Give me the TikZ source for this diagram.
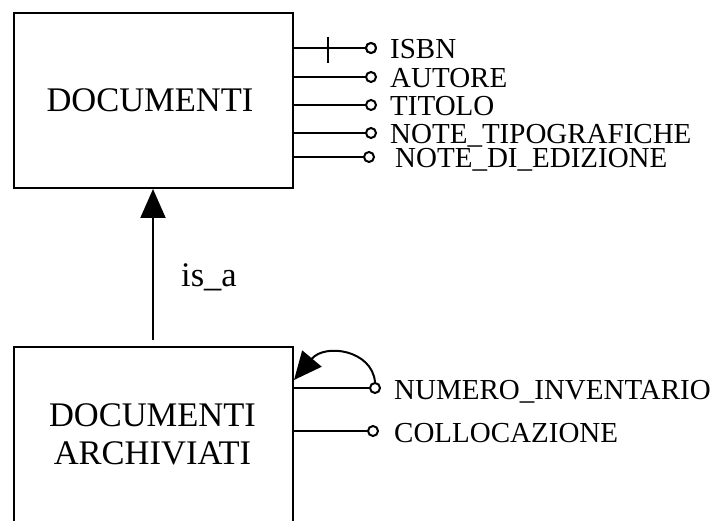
\documentclass[tikz,border=0pt]{standalone}
\usepackage{fontspec}
\setmainfont{Liberation Serif}
\usetikzlibrary{arrows.meta}
\begin{document}
\begin{tikzpicture}[x=1pt,y=-1pt,
  ent/.style={draw,line width=2pt,rectangle,inner sep=0pt},
  conn/.style={line width=2pt},
  attr/.style={circle,draw,line width=2pt,fill=white,minimum size=10pt,inner sep=0pt},
  big/.style={font=\fontsize{34.5}{38}\selectfont,inner sep=0pt,anchor=base},
  lbl/.style={font=\fontsize{29}{30}\selectfont,inner sep=0pt,anchor=base west},
  isa/.style={line width=2pt,-{Triangle[length=29pt,width=25pt]}}]
\useasboundingbox (0,0) rectangle (725,521);
\begin{scope}
\clip (0,0) rectangle (725,521);
% entities
\node[ent,minimum width=279pt,minimum height=175pt] (doc) at (153.5,100.5) {};
\node[ent,minimum width=279pt,minimum height=260pt] (arch) at (153.5,477) {};
\end{scope}
\node[big] (doct) at (150,112) {DOCUMENTI};
\node[big] (archt1) at (152.5,426) {DOCUMENTI};
\node[big] (archt2) at (152.5,464) {ARCHIVIATI};
% attributes of DOCUMENTI
\node[attr] (isbn) at (371,48) {};
\node[attr] (aut) at (371,77) {};
\node[attr] (tit) at (371,105) {};
\node[attr] (ntip) at (371,133) {};
\node[attr] (ned) at (369,157) {};
\node[lbl] (isbnt) at (390,59) {ISBN};
\node[lbl] (autt) at (390,88) {AUTORE};
\node[lbl] (titt) at (390,116) {TITOLO};
\node[lbl] (ntipt) at (390,144) {NOTE\_TIPOGRAFICHE};
\node[lbl] (nedt) at (395,168) {NOTE\_DI\_EDIZIONE};
\draw[conn] (doc.east |- isbn) -- (isbn);
\draw[conn] (doc.east |- aut) -- (aut);
\draw[conn] (doc.east |- tit) -- (tit);
\draw[conn] (doc.east |- ntip) -- (ntip);
\draw[conn] (doc.east |- ned) -- (ned);
\coordinate (tick) at (328,48);
\draw[conn] ([yshift=11pt]tick) -- ([yshift=-15pt]tick);
\node[attr] at (isbn) {};
% is_a
\coordinate (isastart) at (153,340);
\draw[isa] (isastart) -- (isastart |- doc.south);
\node[big] (isat) at (209,287) {is\_a};
% attributes of DOCUMENTI ARCHIVIATI
\node[attr] (numinv) at (375,388) {};
\node[attr] (coll) at (373,431) {};
\node[lbl] (numinvt) at (394,399) {NUMERO\_INVENTARIO};
\node[lbl] (collt) at (394,442) {COLLOCAZIONE};
\draw[conn] (arch.east |- numinv) -- (numinv);
\draw[conn] (arch.east |- coll) -- (coll);
\coordinate (looptip) at (294,380);
\draw[line width=2pt,-{Triangle[length=28pt,width=25pt]}] (numinv.north) .. controls (372,350) and (325,343) .. (looptip);
\end{tikzpicture}
\end{document}
